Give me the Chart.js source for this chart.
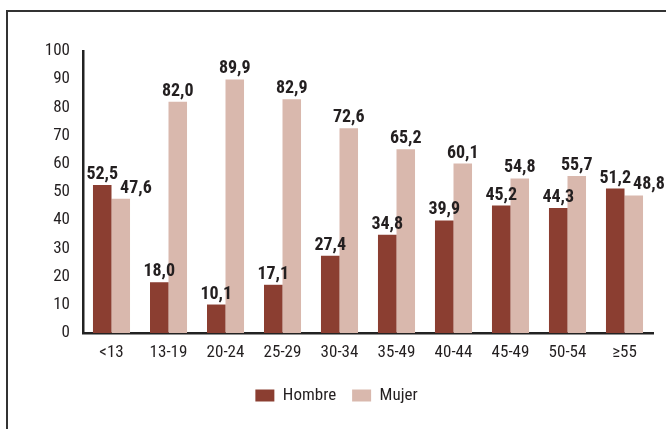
<!DOCTYPE html>
<html>
<head>
<meta charset="utf-8">
<script src="https://cdn.jsdelivr.net/npm/chart.js@4.4.1/dist/chart.umd.min.js"></script>
<style>
  html, body { margin: 0; padding: 0; background: #fff; }
  #wrap { position: relative; width: 666px; height: 429px; overflow: hidden; }
  #frame { position: absolute; left: 6px; top: 10px; width: 700px; height: 500px; border: 2px solid #333; }
  #chart { position: absolute; left: 0; top: 0; }
</style>
</head>
<body>
<div id="wrap">
  <div id="frame"></div>
  <canvas id="chart" width="666" height="429"></canvas>
</div>
<script>
'use strict';

const CATEGORIES = ['<13', '13-19', '20-24', '25-29', '30-34', '35-49', '40-44', '45-49', '50-54', '\u226555'];
const HOMBRE = [52.5, 18.0, 10.1, 17.1, 27.4, 34.8, 39.9, 45.2, 44.3, 51.2];
const MUJER = [47.6, 82.0, 89.9, 82.9, 72.6, 65.2, 60.1, 54.8, 55.7, 48.8];
const Y_TICKS = [0, 10, 20, 30, 40, 50, 60, 70, 80, 90, 100];

const FONT = "'Roboto Condensed', 'Liberation Sans', Arial, sans-serif";
const INK = '#231f20';

// --- value labels above the bars (comma decimals) ---
const valueLabels = {
  id: 'valueLabels',
  afterDatasetsDraw(chart) {
    const ctx = chart.ctx;
    ctx.save();
    ctx.font = 'bold 18px ' + FONT;
    ctx.fillStyle = INK;
    ctx.textAlign = 'left';
    ctx.textBaseline = 'alphabetic';
    const m0 = chart.getDatasetMeta(0).data;
    const m1 = chart.getDatasetMeta(1).data;
    const ds = chart.data.datasets;
    for (let i = 0; i < m0.length; i++) {
      const t0 = ds[0].data[i].toFixed(1).replace('.', ',');
      const t1 = ds[1].data[i].toFixed(1).replace('.', ',');
      const w0 = ctx.measureText(t0).width;
      const w1 = ctx.measureText(t1).width;
      const b0 = m0[i], b1 = m1[i];
      let x0 = b0.x - w0 / 2, y0 = b0.y - 6;
      let x1 = b1.x - w1 / 2, y1 = b1.y - 6;
      // keep labels of the same group apart
      const hOverlap = x0 + w0 > x1 && x1 + w1 > x0;
      const vClose = Math.abs(y0 - y1) < 16;
      if (hOverlap && vClose) {
        if (y0 <= y1) {
          x1 = x0 + w0 + 2;
        } else {
          x0 = x1 - w0 - 2;
        }
      }
      ctx.fillText(t0, x0, y0);
      ctx.fillText(t1, x1, y1);
    }
    ctx.restore();
  }
};

new Chart(document.getElementById('chart').getContext('2d'), {
  type: 'bar',
  data: {
    labels: CATEGORIES,
    datasets: [
      {
        label: 'Hombre',
        data: HOMBRE,
        backgroundColor: '#8b3e31',
        categoryPercentage: 0.65,
        barPercentage: 1.0,
      },
      {
        label: 'Mujer',
        data: MUJER,
        backgroundColor: '#d9b8ad',
        categoryPercentage: 0.65,
        barPercentage: 1.0,
      },
    ],
  },
  options: {
    responsive: false,
    animation: false,
    layout: { padding: { left: 20, right: 13, top: 51, bottom: 15 } },
    plugins: {
      legend: {
        position: 'bottom',
        labels: {
          boxWidth: 19,
          boxHeight: 12,
          padding: 16,
          color: INK,
          font: { family: FONT, size: 17 },
        },
      },
      tooltip: { enabled: false },
    },
    scales: {
      x: {
        grid: { display: false, drawTicks: false },
        border: { display: true, color: '#222', width: 2.5 },
        ticks: { color: INK, padding: 10, font: { family: FONT, size: 17 }, maxRotation: 0 },
        afterFit(scale) { scale.height = 38; },
      },
      y: {
        min: 0,
        max: 100,
        grid: { display: false, drawTicks: false },
        border: { display: true, color: '#222', width: 2.5 },
        afterBuildTicks(scale) { scale.ticks = Y_TICKS.map(v => ({ value: v })); },
        ticks: { color: INK, padding: 13, font: { family: FONT, size: 17 } },
        afterFit(scale) { scale.width = 63; },
      },
    },
  },
  plugins: [valueLabels],
});
</script>
</body>
</html>
